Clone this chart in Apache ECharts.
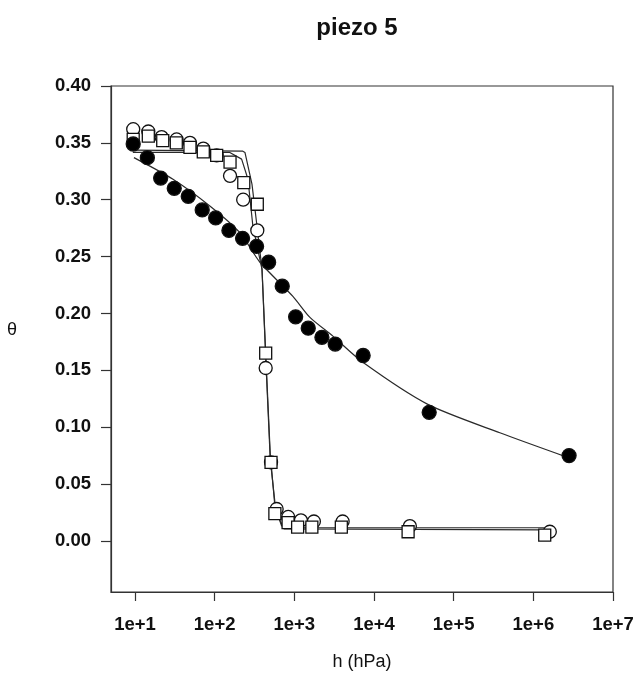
<!DOCTYPE html>
<html>
<head>
<meta charset="utf-8">
<script src="https://cdn.jsdelivr.net/npm/echarts@6/dist/echarts.min.js"></script>
<style>
html,body{margin:0;padding:0;background:#fff;}
#main{width:639px;height:676px;}
</style>
</head>
<body>
<div id="main"></div>
<script>
// points mesurés (ronds pleins)
var hFilled=[9.5,14.3,21,31.1,46.6,69.8,103,151,224,336,476,705,1038,1495,2220,3260,7310,49300,2.81e6];
var thFilled=[0.349,0.337,0.319,0.310,0.303,0.291,0.284,0.273,0.266,0.259,0.245,0.224,0.197,0.187,0.179,0.173,0.163,0.113,0.075];
// ronds vides
var hCircle=[9.5,14.7,21.6,33.3,49,72,106,156,228,343,437,510,600,838,1210,1760,4040,28200,1.61e6];
var thCircle=[0.362,0.360,0.355,0.353,0.350,0.345,0.339,0.321,0.300,0.273,0.152,0.069,0.028,0.021,0.018,0.017,0.017,0.013,0.008];
// carrés vides
var hSquare=[9.5,14.7,22.3,33,49,72,106,156,232,343,437,510,570,835,1100,1660,3890,26800,1.39e6];
var thSquare=[0.353,0.356,0.352,0.350,0.346,0.342,0.339,0.333,0.315,0.296,0.165,0.069,0.024,0.016,0.012,0.012,0.012,0.008,0.005];
// courbes ajustées
var hFitFilled=[9.7,30,87,207,370,960,1570,3050,7250,47400,380000,2.79e6];
var thFitFilled=[0.337,0.318,0.2945,0.271,0.245,0.215,0.1965,0.180,0.157,0.120,0.095,0.073];
var hFitA=[9.4,226,240,294,340,393,441,499,571,692,881,1.61e6];
var thFitA=[0.3436,0.3427,0.3416,0.3137,0.2767,0.2388,0.159,0.0758,0.030,0.0132,0.0115,0.0115];
var hFitB=[9.4,155,218,262,302,393,441,499,588,741,1.38e6];
var thFitB=[0.3416,0.3416,0.3357,0.318,0.2767,0.2388,0.155,0.0714,0.0256,0.0106,0.0097];
// graduations
var xTicks=[10,100,1000,1e4,1e5,1e6,1e7];
var yTicks=[0,0.05,0.10,0.15,0.20,0.25,0.30,0.35,0.40];

function pairs(xs,ys){
    var out=[];
    for(var i=0;i<xs.length;i++){
        out.push([xs[i],ys[i]]);
    };
    return out;
}

var myChart=echarts.init(document.getElementById('main'));
var font='Liberation Sans';
var ink='#111';

function fitLine(name,data,smooth){
    return {
        name:name,
        type:'line',
        data:data,
        symbol:'none',
        smooth:smooth,
        z:2,
        lineStyle:{color:'#2a2a2a',width:1.2}
    };
}
function pointSeries(name,data,symbol,size,fill){
    return {
        name:name,
        type:'scatter',
        data:data,
        symbol:symbol,
        symbolSize:size,
        z:3,
        itemStyle:{color:fill,borderColor:'#111',borderWidth:1.3,opacity:1}
    };
}

var option={
    animation:false,
    backgroundColor:'#fff',
    title:{
        text:'piezo 5',
        left:352,
        top:11,
        textAlign:'center',
        textStyle:{fontFamily:font,fontSize:24,fontWeight:'bold',color:ink}
    },
    grid:{
        left:111,
        right:26,
        top:86,
        bottom:84,
        show:true,
        borderColor:'#333',
        borderWidth:1.2
    },
    xAxis:{
        type:'log',
        min:5.0,
        max:1e7,
        name:'h (hPa)',
        nameLocation:'middle',
        nameGap:61,
        nameTextStyle:{fontFamily:font,fontSize:18,color:ink,verticalAlign:'top'},
        axisLine:{onZero:false,lineStyle:{color:'#333',width:1.2}},
        axisTick:{customValues:xTicks,length:9,lineStyle:{color:'#333',width:1.2}},
        axisLabel:{
            customValues:xTicks,
            margin:23,
            fontFamily:font,
            fontSize:18.5,
            fontWeight:'bold',
            color:ink,
            formatter:function(v){return '1e+'+Math.round(Math.log10(v));}
        },
        splitLine:{show:false}
    },
    yAxis:{
        type:'value',
        min:-0.045,
        max:0.40,
        name:'θ',
        nameLocation:'middle',
        nameRotate:0,
        nameGap:94,
        nameTextStyle:{fontFamily:font,fontSize:18,color:ink,verticalAlign:'bottom'},
        axisLine:{show:true,lineStyle:{color:'#333',width:1.2}},
        axisTick:{show:true,customValues:yTicks,length:10,lineStyle:{color:'#333',width:1.2}},
        axisLabel:{
            customValues:yTicks,
            margin:20,
            fontFamily:font,
            fontSize:18.5,
            fontWeight:'bold',
            color:ink,
            formatter:function(v){return v.toFixed(2);}
        },
        splitLine:{show:false}
    },
    series:[
        fitLine('fit filled',pairs(hFitFilled,thFitFilled),0.25),
        fitLine('fit A',pairs(hFitA,thFitA),false),
        fitLine('fit B',pairs(hFitB,thFitB),false),
        pointSeries('circles',pairs(hCircle,thCircle),'circle',13,'#fff'),
        pointSeries('squares',pairs(hSquare,thSquare),'rect',12,'#fff'),
        pointSeries('filled',pairs(hFilled,thFilled),'circle',14,'#000')
    ]
};
myChart.setOption(option);
</script>
</body>
</html>
